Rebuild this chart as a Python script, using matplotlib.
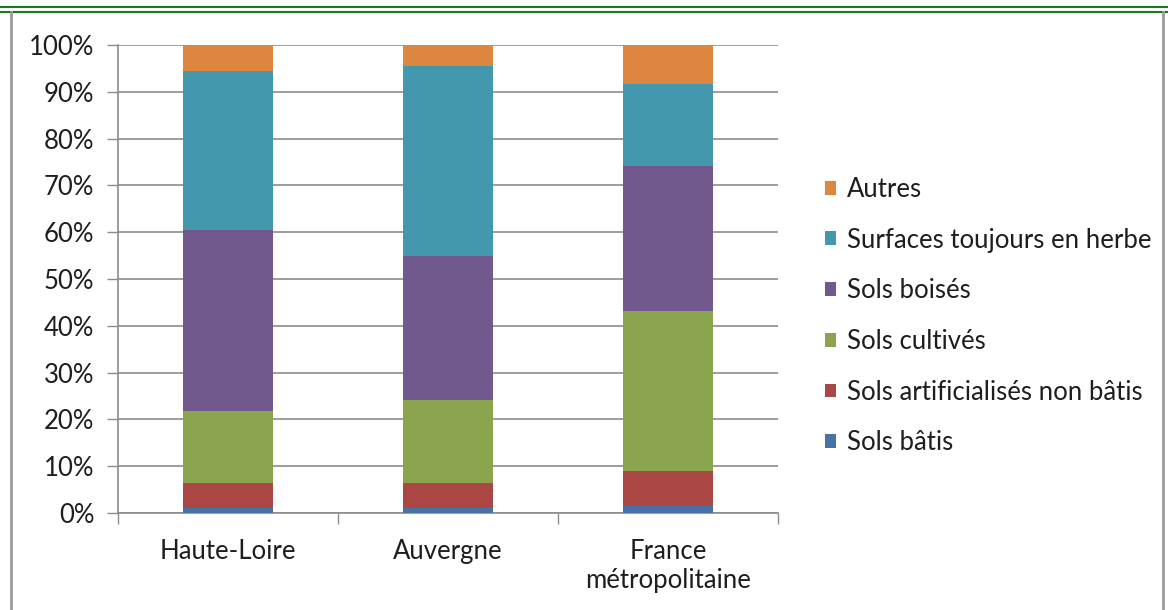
import numpy as np
import matplotlib.pyplot as plt
from matplotlib.lines import Line2D

plt.rcParams['font.family'] = ['Lato', 'DejaVu Sans']

# Occupation du sol (% de la surface)
zones = ["Haute-Loire", "Auvergne", "France\nmétropolitaine"]
categories = ["Sols bâtis", "Sols artificialisés non bâtis", "Sols cultivés",
              "Sols boisés", "Surfaces toujours en herbe", "Autres"]
sols_batis = [1.1, 1.1, 1.5]
sols_artif = [5.3, 5.3, 7.5]
sols_cultives = [15.5, 17.8, 34.1]
sols_boises = [38.6, 30.7, 31.0]
surfaces_herbe = [33.9, 40.7, 17.5]
autres = [5.6, 4.4, 8.4]

colors = ["#4672A8", "#AA4744", "#8AA54D", "#71598D", "#4398AE", "#DD8640"]
series = [sols_batis, sols_artif, sols_cultives, sols_boises, surfaces_herbe, autres]

FS = 18.5

fig = plt.figure(figsize=(11.68, 6.10), dpi=100)
ax = fig.add_axes([118 / 1168, 1 - 513 / 610, 660 / 1168, 468 / 610])

x = np.arange(len(zones))
bottom = np.zeros(len(zones))
handles = []
for vals, col, name in zip(series, colors, categories):
    vals = np.array(vals)
    b = ax.bar(x, vals, 0.405, bottom=bottom, color=col, label=name, zorder=3)
    bottom += vals
    handles.append(b)

ax.set_xlim(-0.5, 2.5)
ax.set_ylim(0, 100)
ax.set_yticks(np.arange(0, 101, 10))
ax.set_yticklabels([f"{v}%" for v in range(0, 101, 10)], fontsize=FS, color="#1e1e1e")
ax.yaxis.grid(True, color="#8c8c8c", linewidth=1.2, zorder=0)
ax.tick_params(axis="y", length=8, width=1, color="#8c8c8c", pad=9, direction="out")

# category boundaries as tick marks, labels centred under bars
ax.set_xticks([-0.5, 0.5, 1.5, 2.5])
ax.set_xticklabels([])
ax.tick_params(axis="x", length=8, width=1, color="#8c8c8c", direction="out")
ax.set_xticks(x, minor=True)
ax.set_xticklabels(zones, minor=True, fontsize=FS, color="#1e1e1e", linespacing=1.2)
ax.tick_params(axis="x", which="minor", length=0, pad=19)

for s in ["top", "right"]:
    ax.spines[s].set_visible(False)
for s in ["left", "bottom"]:
    ax.spines[s].set_color("#8c8c8c")
    ax.spines[s].set_linewidth(1.2)

leg = fig.legend(handles[::-1], categories[::-1], loc="upper left",
                 bbox_to_anchor=(812 / 1168, 1 - 164 / 610), frameon=False,
                 fontsize=FS, handlelength=0.45, handleheight=0.45,
                 handletextpad=0.4, labelspacing=1.0, borderpad=0)
for t in leg.get_texts():
    t.set_color("#1e1e1e")

# frame lines around the chart
fig.add_artist(Line2D([0, 1], [1 - 7 / 610, 1 - 7 / 610], color="#1a7a1a", lw=1.5))
fig.add_artist(Line2D([0, 1], [1 - 11.5 / 610, 1 - 11.5 / 610], color="#1a7a1a", lw=1.5))
fig.add_artist(Line2D([10.5 / 1168, 10.5 / 1168], [0, 1 - 12 / 610], color="#9a9a9a", lw=2))
fig.add_artist(Line2D([1163 / 1168, 1163 / 1168], [0, 1 - 12 / 610], color="#9a9a9a", lw=2))

fig.savefig("out.png", dpi=100)
